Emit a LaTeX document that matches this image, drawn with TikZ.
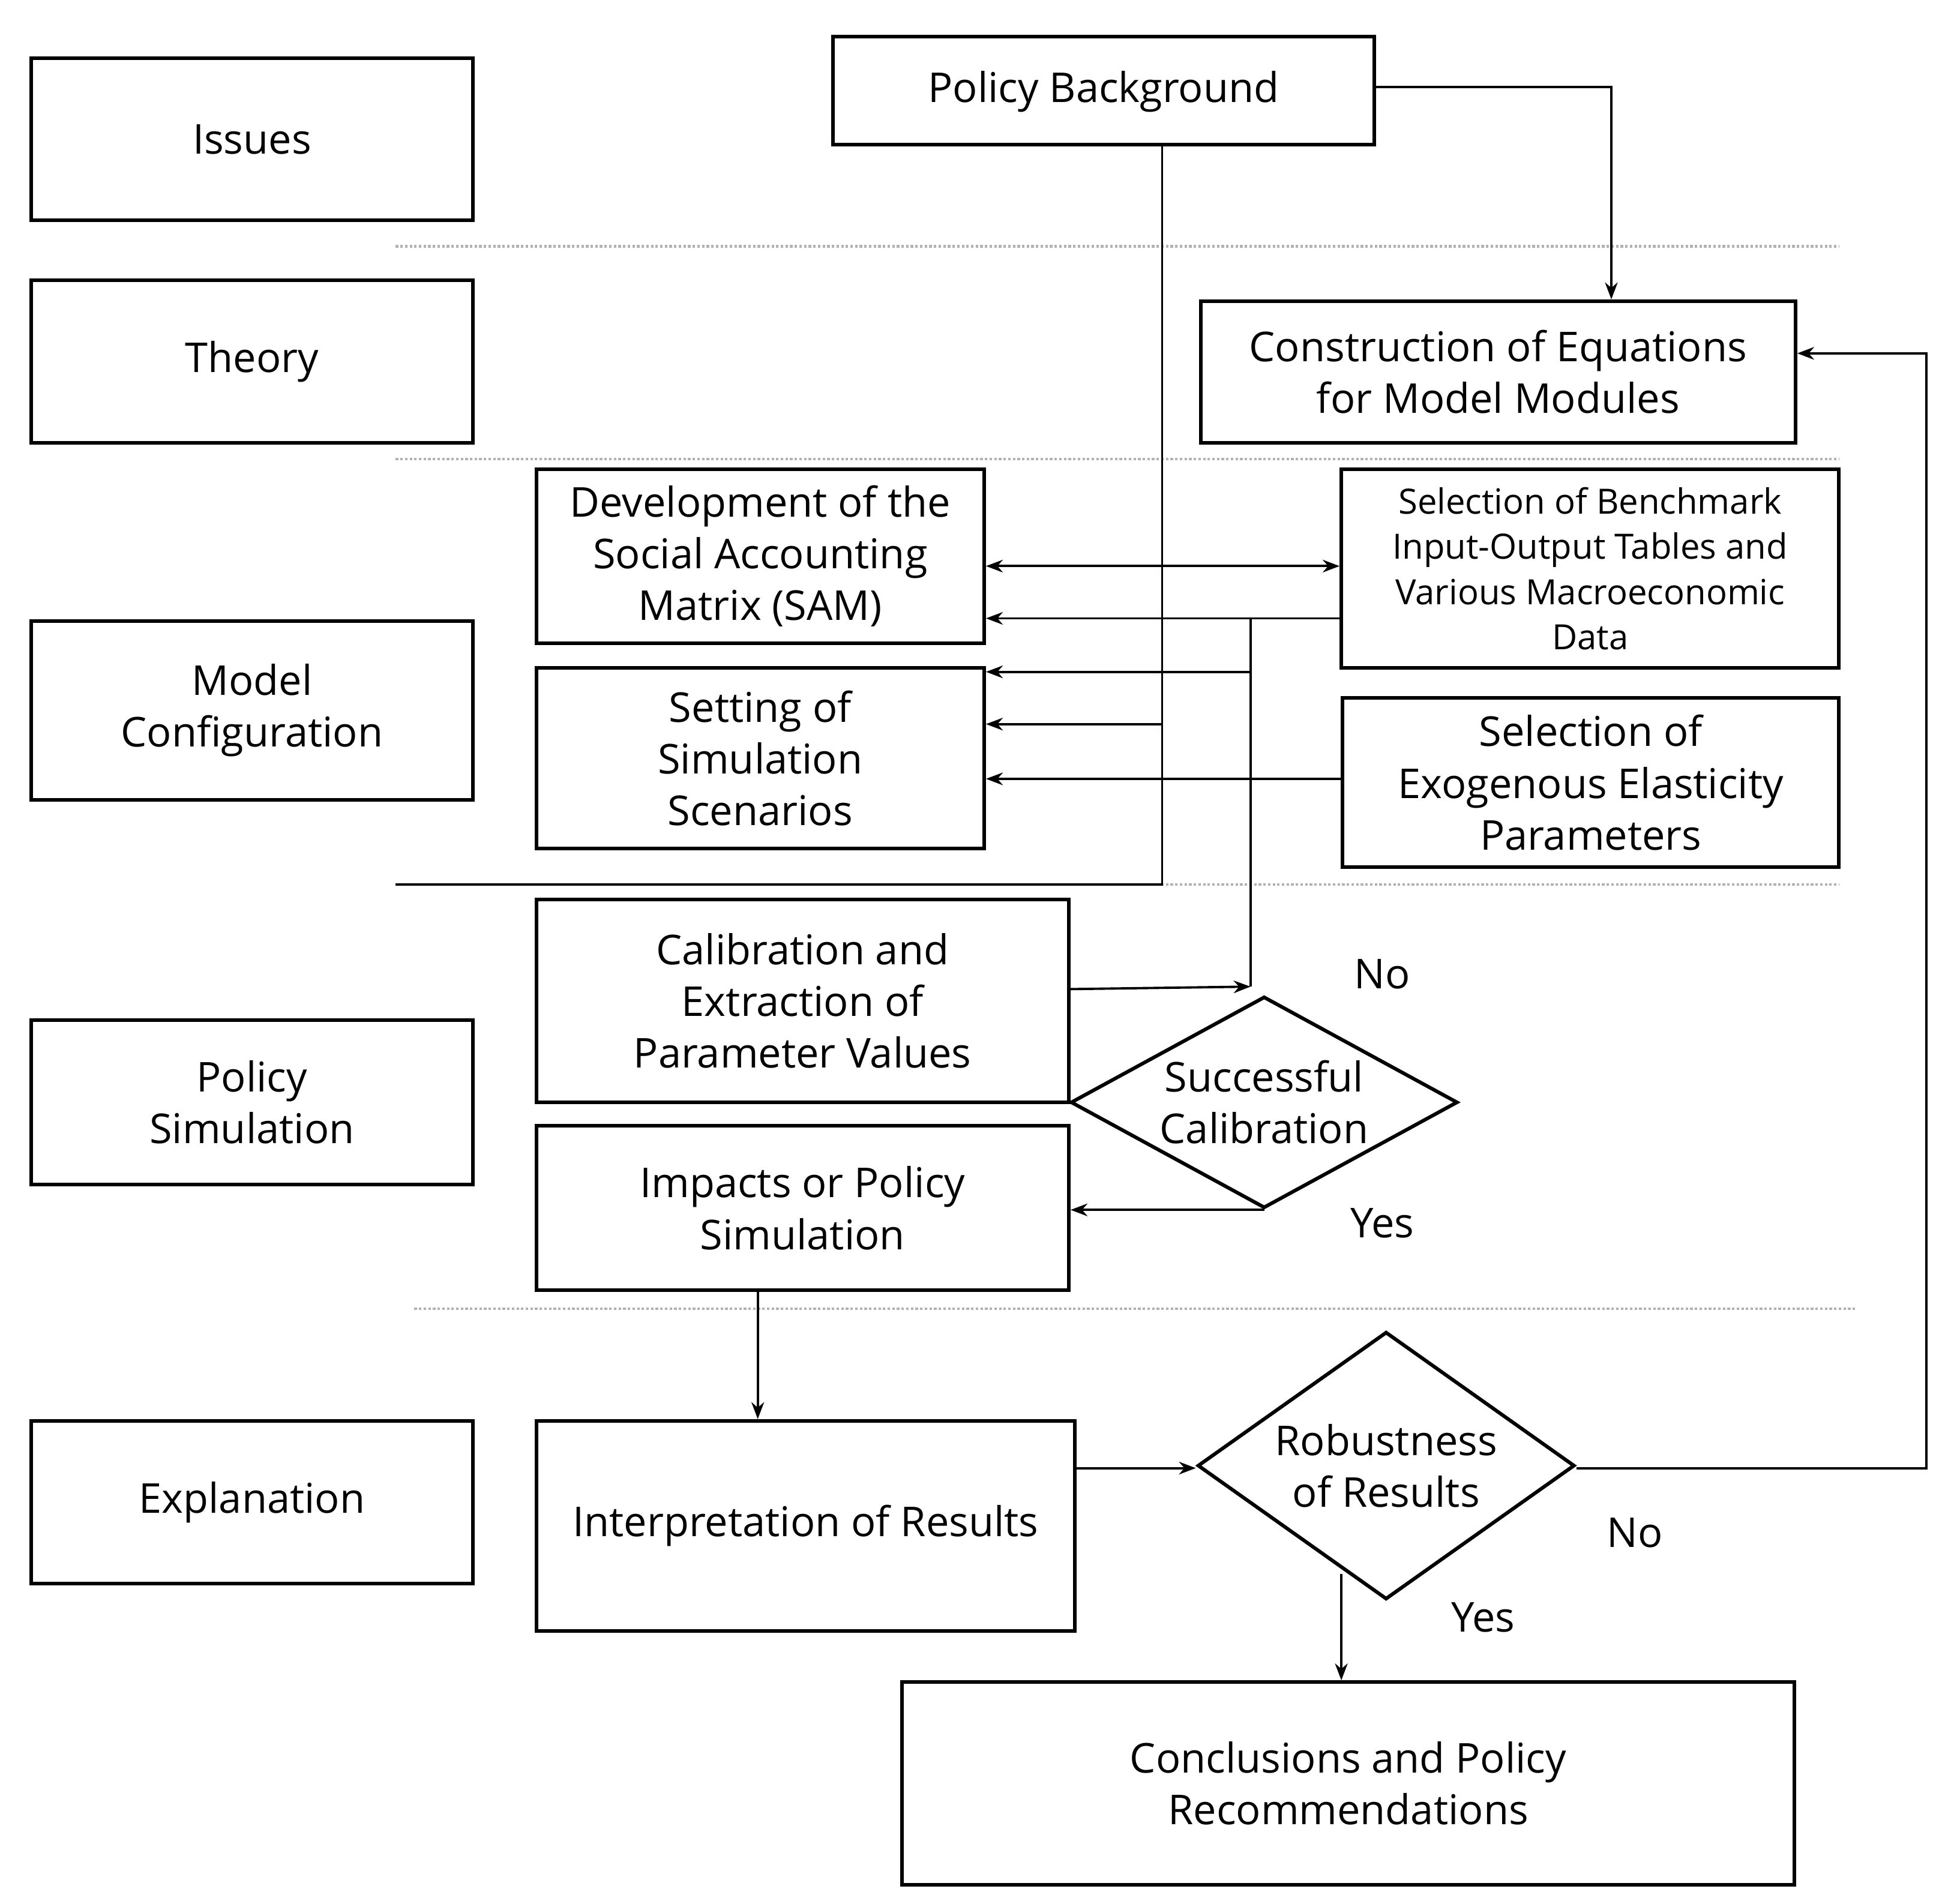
\documentclass[tikz,border=0pt]{standalone}
\usepackage{fontspec}
\setmainfont{Open Sans}
\usetikzlibrary{shapes.geometric,arrows.meta}
\def\u{0.02073cm}
\begin{document}
\begin{tikzpicture}[x=0.02073cm,y=-0.02073cm,
  box/.style={draw,line width=1.7pt,align=center,inner sep=2pt,font=\fontsize{19.5}{24.5}\selectfont},
  dia/.style={draw,line width=1.7pt,diamond,align=center,inner sep=0pt,font=\fontsize{19.5}{24.5}\selectfont},
  arr/.style={line width=1.1pt,-{Stealth[length=8pt,width=6pt]}},
  ln/.style={line width=1.1pt},
  sep/.style={line width=1.2pt,gray!60,densely dotted},
  lab/.style={font=\fontsize{19.5}{24.5}\selectfont}]
\useasboundingbox (0,0) rectangle (1568,1530);
\newcommand\bx[6]{\node[box,minimum width={(#4-#2)*\u},minimum height={(#5-#3)*\u}] (#1) at ({(#2+#4)/2},{(#3+#5)/2}) {#6};}
\bx{issues}{25}{47}{380}{177}{Issues}
\bx{theory}{25}{225}{380}{356}{Theory}
\bx{mconf}{25}{499}{380}{643}{Model\\Configuration}
\bx{psim}{25}{820}{380}{952}{Policy\\Simulation}
\bx{expl}{25}{1142}{380}{1273}{Explanation}
\node[box,minimum width={435*\u},minimum height={87*\u},anchor=north west,text height=0.55cm] (pb) at (668,28) {Policy Background};
\bx{cons}{965}{242}{1443}{356}{Construction of Equations\\for Model Modules}
\bx{sam}{431}{377}{791}{517}{Development of the\\Social Accounting\\Matrix (SAM)}
\node[box,minimum width={400*\u},minimum height={160*\u},font=\fontsize{16.5}{21.5}\selectfont] (sel) at (1278,457) {Selection of Benchmark\\Input-Output Tables and\\Various Macroeconomic\\Data};
\bx{set}{431}{537}{791}{682}{Setting of\\Simulation\\Scenarios}
\bx{exo}{1079}{561}{1478}{697}{Selection of\\Exogenous Elasticity\\Parameters}
\bx{cal}{431}{723}{859}{886}{Calibration and\\Extraction of\\Parameter Values}
\bx{imp}{431}{905}{859}{1037}{Impacts or Policy\\Simulation}
\bx{int}{431}{1142}{864}{1311}{Interpretation of Results}
\bx{conc}{725}{1352}{1442}{1515}{Conclusions and Policy\\Recommendations}
\node[dia,minimum width={311*\u},minimum height={170*\u},shape aspect=1.83] (d1) at (1016,886) {Successful\\Calibration};
\node[dia,minimum width={303*\u},minimum height={215*\u},shape aspect=1.41] (d2) at (1114,1178) {Robustness\\of Results};
% separators
\draw[sep] (318,198) -- (1478,198);
\draw[sep] (318,369) -- (1478,369);
\draw[sep] (318,711) -- (1478,711);
\draw[sep] (333,1052) -- (1492,1052);
% connectors
\coordinate (a1) at (1295,70);
\draw[arr] (pb.east |- a1) -- (a1) -- (cons.north -| a1);
\coordinate (v1) at (934,711);
\draw[ln] (pb.south -| v1) -- (v1) -- (318,711);
\draw[arr] (934,582) -- (set.east |- 0,582);
\draw[arr,{Stealth[length=8pt,width=6pt]}-{Stealth[length=8pt,width=6pt]}] (sam.east |- 0,455) -- (sel.west |- 0,455);
\draw[arr] (sel.west |- 0,497) -- (sam.east |- 0,497);
\coordinate (j1) at (1005,793);
\draw[arr] (cal.east |- 0,795) -- (j1);
\draw[ln] (j1) -- (1005,497);
\draw[arr] (1005,540) -- (set.east |- 0,540);
\draw[arr] (exo.west |- 0,626) -- (set.east |- 0,626);
\draw[arr] (d1.south) -- (imp.east |- d1.south);
\draw[arr] (imp.south -| 609,0) -- (int.north -| 609,0);
\draw[arr] (int.east |- 0,1180) -- (d2.west |- 0,1180);
\coordinate (c1) at (1548,1180);
\coordinate (c2) at (1548,284);
\draw[arr] (d2.east |- c1) -- (c1) -- (c2) -- (cons.east |- c2);
\draw[arr] (1078,1265) -- (conc.north -| 1078,0);
\node[lab] (no1) at (1111,783) {No};
\node[lab] (yes1) at (1111,983) {Yes};
\node[lab] (no2) at (1314,1232) {No};
\node[lab] (yes2) at (1192,1300) {Yes};
\end{tikzpicture}
\end{document}
